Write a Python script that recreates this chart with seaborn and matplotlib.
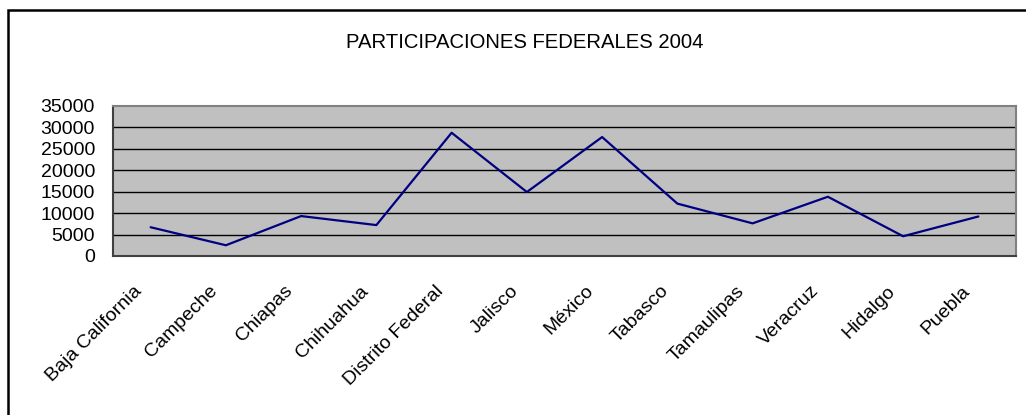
import matplotlib
matplotlib.use("Agg")
import matplotlib.pyplot as plt
import matplotlib.transforms as mtransforms
import seaborn as sns
import pandas as pd
from matplotlib.patches import Rectangle

# datos
estados = ["Baja California", "Campeche", "Chiapas", "Chihuahua", "Distrito Federal",
           "Jalisco", "México", "Tabasco", "Tamaulipas", "Veracruz", "Hidalgo", "Puebla"]
participaciones = [6700, 2500, 9300, 7200, 28700, 14900, 27700, 12200, 7600, 13800, 4600, 9200]
yticks = [0, 5000, 10000, 15000, 20000, 25000, 30000, 35000]

df = pd.DataFrame({"estado": estados, "monto": participaciones})
df["pos"] = range(len(df))

sns.set_style("white")
plt.rcParams["font.family"] = ["Liberation Sans", "DejaVu Sans"]
plt.rcParams["text.color"] = "black"
plt.rcParams["xtick.color"] = "black"
plt.rcParams["ytick.color"] = "black"

fig = plt.figure(figsize=(10.26, 4.15), dpi=100)
ax = fig.add_axes([113 / 1026, 159 / 415, 903 / 1026, 150.3 / 415])

ax.set_facecolor("#C0C0C0")
for y in yticks[1:-1]:
    ax.axhline(y, color="black", lw=1, zorder=1)

sns.lineplot(data=df, x="pos", y="monto", color="#000080", lw=1.6, ax=ax, sort=False, zorder=3)

ax.set_xlim(-0.5, len(estados) - 0.5)
ax.set_ylim(0, 35000)
ax.set_yticks(yticks)
ax.set_yticklabels([str(v) for v in yticks], fontsize=14)
ax.set_xticks(range(len(estados)))
ax.set_xticklabels(estados, rotation=45, ha="right", va="top", rotation_mode="anchor", fontsize=14)
ax.set_xticks([i - 0.5 for i in range(len(estados) + 1)], minor=True)
ax.tick_params(axis="x", which="major", length=0, pad=9)
ax.tick_params(axis="x", which="minor", length=5, width=1, color="#404040", direction="out")
ax.tick_params(axis="y", length=5, width=1, color="#404040", direction="out", pad=8)

# desplazar etiquetas como en el original
desp = mtransforms.ScaledTranslation(-0.17, -0.14, fig.dpi_scale_trans)
for lab in ax.get_xticklabels():
    lab.set_transform(lab.get_transform() + desp)

ax.set_xlabel("")
ax.set_ylabel("")
for s in ax.spines.values():
    s.set_visible(True)
    s.set_color("#808080")
    s.set_linewidth(1.5)
ax.spines["bottom"].set_color("#404040")
ax.spines["left"].set_color("#404040")

fig.text(525 / 1026, 1 - 42 / 415, "PARTICIPACIONES FEDERALES 2004", ha="center", va="center", fontsize=14.6)

# marco del grafico (recortado a la derecha y abajo)
fig.patches.append(Rectangle((8 / 1026, -0.2), 1.2, 1.2 - 10 / 415, transform=fig.transFigure,
                             fill=False, edgecolor="black", lw=1.8))

fig.savefig("out.png", dpi=100)
